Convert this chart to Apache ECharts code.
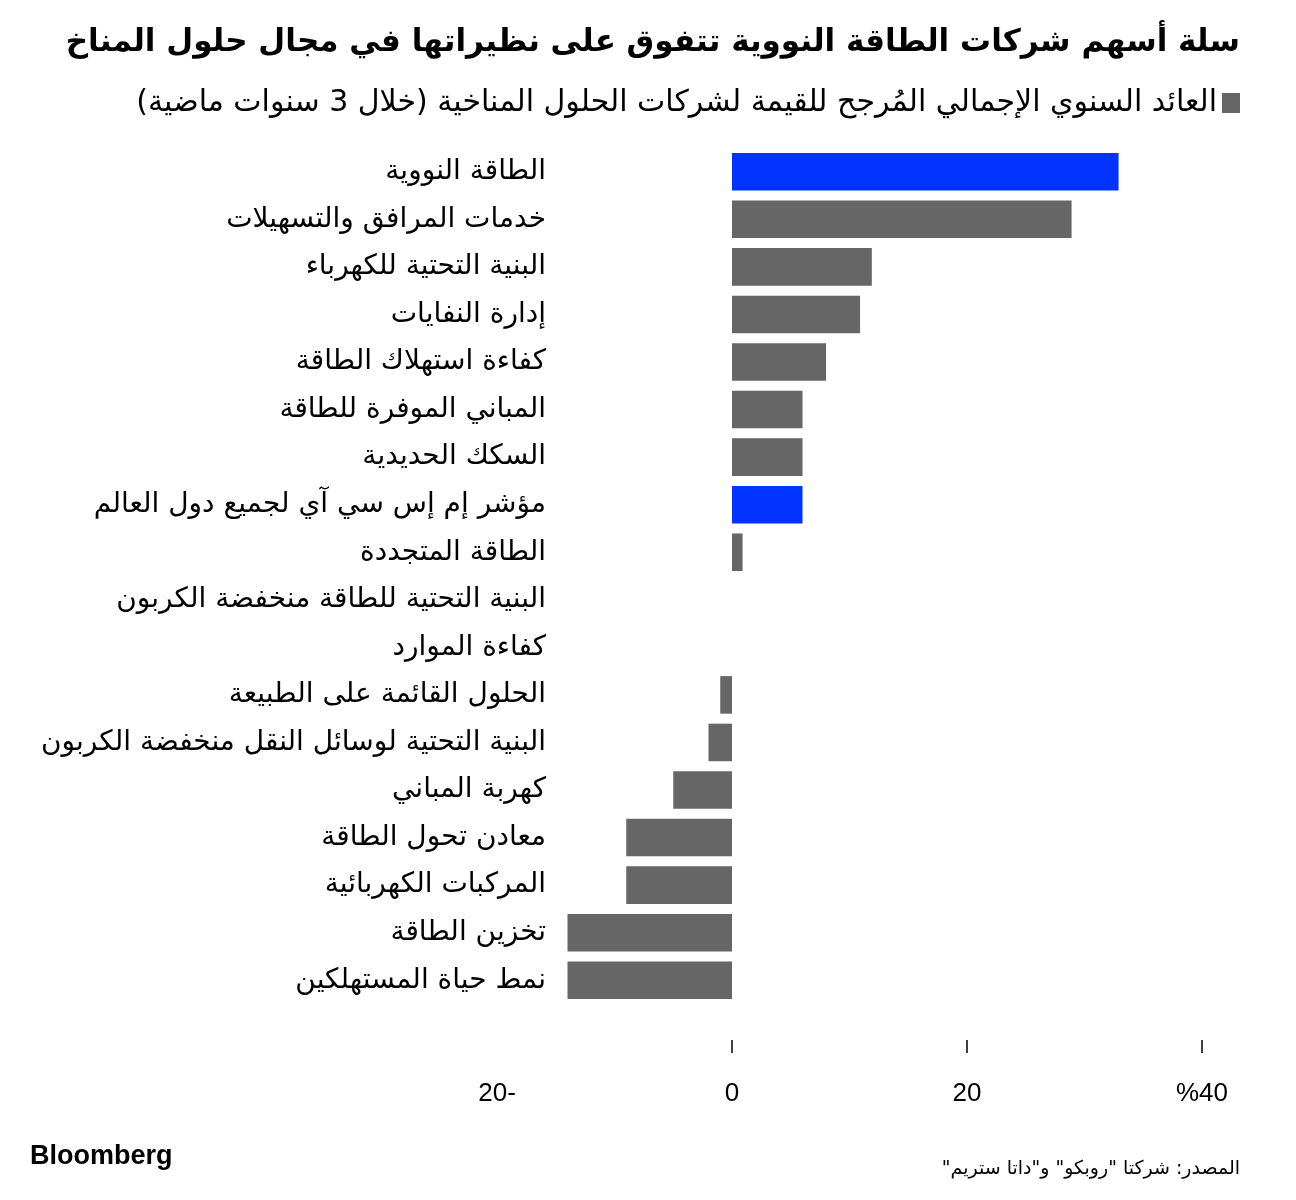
<!DOCTYPE html>
<html>
<head>
<meta charset="utf-8">
<script src="https://cdn.jsdelivr.net/npm/echarts@6/dist/echarts.min.js"></script>
<style>
    body { margin: 0; background: #fff; }
    #main { width: 1296px; height: 1200px; }
</style>
</head>
<body>
<div id="main" dir="rtl"></div>
<script>
// فئات الشركات من الأعلى إلى الأسفل
var categories = [
    'الطاقة النووية',
    'خدمات المرافق والتسهيلات',
    'البنية التحتية للكهرباء',
    'إدارة النفايات',
    'كفاءة استهلاك الطاقة',
    'المباني الموفرة للطاقة',
    'السكك الحديدية',
    'مؤشر إم إس سي آي لجميع دول العالم',
    'الطاقة المتجددة',
    'البنية التحتية للطاقة منخفضة الكربون',
    'كفاءة الموارد',
    'الحلول القائمة على الطبيعة',
    'البنية التحتية لوسائل النقل منخفضة الكربون',
    'كهربة المباني',
    'معادن تحول الطاقة',
    'المركبات الكهربائية',
    'تخزين الطاقة',
    'نمط حياة المستهلكين'
];
var values = [32.9, 28.9, 11.9, 10.9, 8.0, 6.0, 6.0, 6.0, 0.9, 0, 0, -1.0, -2.0, -5.0, -9.0, -9.0, -14.0, -14.0];
var highlighted = ['الطاقة النووية', 'مؤشر إم إس سي آي لجميع دول العالم'];
var tickValues = [-20, 0, 20, 40];
var tickMarks = [0, 20, 40];

var seriesName = 'العائد السنوي الإجمالي المُرجح للقيمة لشركات الحلول المناخية (خلال 3 سنوات ماضية)';
var arFont = '"DejaVu Sans", sans-serif';
var numFont = '"Liberation Sans", Arial, sans-serif';

var myChart = echarts.init(document.getElementById('main'));

var barData = [];
for (var i = 0; i < values.length; i++) {
    barData.push({
        value: values[i],
        itemStyle: {color: highlighted.indexOf(categories[i]) >= 0 ? '#0033ff' : '#666666'}
    });
}

var option = {
    backgroundColor: '#fff',
    animation: false,
    title: [
        {
            text: 'سلة أسهم شركات الطاقة النووية تتفوق على نظيراتها في مجال حلول المناخ',
            right: 56,
            top: 27,
            padding: 0,
            textStyle: {fontFamily: arFont, fontSize: 31, fontWeight: 'bold', color: '#000'}
        },
        {
            text: 'المصدر: شركتا "روبكو" و"داتا ستريم"',
            right: 56,
            top: 1160,
            padding: 0,
            textStyle: {fontFamily: arFont, fontSize: 19, fontWeight: 'normal', color: '#000'}
        },
        {
            text: 'Bloomberg',
            left: 30,
            top: 1143,
            padding: 0,
            textStyle: {fontFamily: numFont, fontSize: 27, fontWeight: 'bold', color: '#000'}
        }
    ],
    legend: {
        right: 56,
        top: 88,
        padding: 0,
        align: 'right',
        itemWidth: 18,
        itemHeight: 20,
        itemGap: 10,
        icon: 'rect',
        selectedMode: false,
        textStyle: {fontFamily: arFont, fontSize: 30, color: '#000'},
        data: [seriesName]
    },
    grid: {
        left: 497,
        right: 94,
        top: 148,
        bottom: 196,
        containLabel: false
    },
    xAxis: {
        type: 'value',
        min: -20,
        max: 40,
        interval: 20,
        position: 'bottom',
        offset: 36,
        splitLine: {show: false},
        axisLine: {show: false},
        axisTick: {
            show: true,
            length: 13,
            customValues: tickMarks,
            lineStyle: {color: '#000', width: 1.5}
        },
        axisLabel: {
            margin: 41,
            customValues: tickValues,
            fontFamily: numFont,
            fontSize: 26,
            color: '#000',
            formatter: function (v) {
                if (v === 40) return '%40';
                return String(v);
            }
        }
    },
    yAxis: {
        type: 'category',
        inverse: true,
        data: categories,
        offset: -57,
        axisLine: {show: false},
        axisTick: {show: false},
        axisLabel: {
            margin: 8,
            fontFamily: arFont,
            fontSize: 28,
            color: '#000'
        }
    },
    series: [
        {
            name: seriesName,
            type: 'bar',
            barWidth: '79%',
            itemStyle: {color: '#666666'},
            data: barData
        }
    ]
};

myChart.setOption(option);
</script>
</body>
</html>
